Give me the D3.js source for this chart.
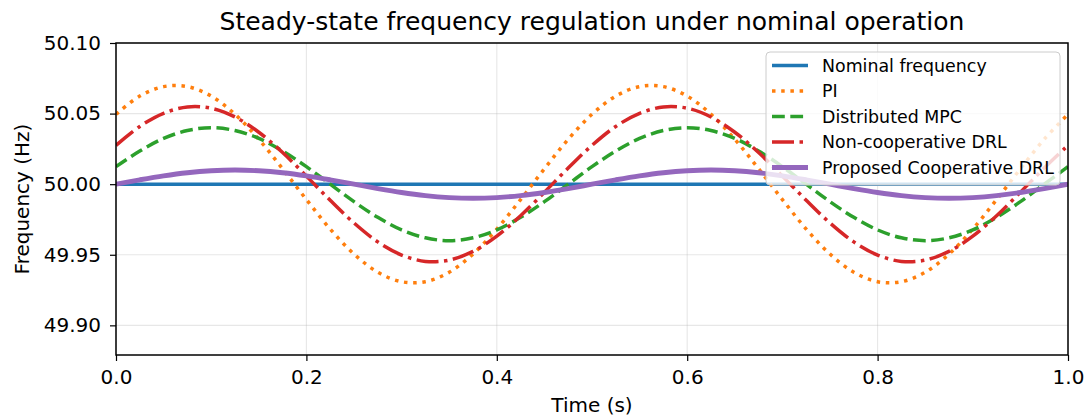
<!DOCTYPE html>
<html>
<head>
<meta charset="utf-8">
<script src="https://cdn.jsdelivr.net/npm/d3@7"></script>
<style>
    body { margin: 0; background: #fff; }
    #chart { width: 1088px; height: 419px; }
    text { font-family: "DejaVu Sans", sans-serif; fill: #000; }
    .axis text { font-size: 20px; }
    .axis path, .axis line { stroke: #000; }
    .grid line { stroke: #b0b0b0; stroke-opacity: 0.3; }
</style>
</head>
<body>
<div id="chart"></div>
<script>

// time samples (s)
const time = [0.000,0.025,0.050,0.075,0.100,0.125,0.150,0.175,0.200,0.225,
              0.250,0.275,0.300,0.325,0.350,0.375,0.400,0.425,0.450,0.475,
              0.500,0.525,0.550,0.575,0.600,0.625,0.650,0.675,0.700,0.725,
              0.750,0.775,0.800,0.825,0.850,0.875,0.900,0.925,0.950,0.975,1.000];

// frequencies (Hz)
const nominal = [50.000,50.000,50.000,50.000,50.000,50.000,50.000,50.000,50.000,50.000,
                 50.000,50.000,50.000,50.000,50.000,50.000,50.000,50.000,50.000,50.000,
                 50.000,50.000,50.000,50.000,50.000,50.000,50.000,50.000,50.000,50.000,
                 50.000,50.000,50.000,50.000,50.000,50.000,50.000,50.000,50.000,50.000,50.000];

const pi = [50.0495,50.0624,50.0691,50.0691,50.0624,50.0495,50.0318,50.0109,49.9891,49.9682,
            49.9505,49.9376,49.9309,49.9309,49.9376,49.9505,49.9682,49.9891,50.0109,50.0318,
            50.0495,50.0624,50.0691,50.0691,50.0624,50.0495,50.0318,50.0109,49.9891,49.9682,
            49.9505,49.9376,49.9309,49.9309,49.9376,49.9505,49.9682,49.9891,50.0109,50.0318,50.0495];

const mpc = [50.0124,50.0235,50.0324,50.0380,50.0400,50.0380,50.0324,50.0235,50.0124,50.0000,
             49.9876,49.9765,49.9676,49.9620,49.9600,49.9620,49.9676,49.9765,49.9876,50.0000,
             50.0124,50.0235,50.0324,50.0380,50.0400,50.0380,50.0324,50.0235,50.0124,50.0000,
             49.9876,49.9765,49.9676,49.9620,49.9600,49.9620,49.9676,49.9765,49.9876,50.0000,50.0124];

const drl = [50.0275,50.0409,50.0502,50.0547,50.0538,50.0476,50.0368,50.0224,50.0057,49.9886,
             49.9725,49.9591,49.9498,49.9453,49.9462,49.9524,49.9632,49.9776,49.9943,50.0114,
             50.0275,50.0409,50.0502,50.0547,50.0538,50.0476,50.0368,50.0224,50.0057,49.9886,
             49.9725,49.9591,49.9498,49.9453,49.9462,49.9524,49.9632,49.9776,49.9943,50.0114,50.0275];

const proposed = [50.0000,50.0031,50.0059,50.0081,50.0095,50.0100,50.0095,50.0081,50.0059,50.0031,
                  50.0000,49.9969,49.9941,49.9919,49.9905,49.9900,49.9905,49.9919,49.9941,49.9969,
                  50.0000,50.0031,50.0059,50.0081,50.0095,50.0100,50.0095,50.0081,50.0059,50.0031,
                  50.0000,49.9969,49.9941,49.9919,49.9905,49.9900,49.9905,49.9919,49.9941,49.9969,50.0000];

const xTicks = [0, 0.2, 0.4, 0.6, 0.8, 1.0];
const yTicks = [49.90, 49.95, 50.00, 50.05, 50.10];

const series = [
    {name: "Nominal frequency", values: nominal, color: "#1f77b4", width: 3.5, dash: null},
    {name: "PI", values: pi, color: "#ff7f0e", width: 3.5, dash: "3.5,5.7"},
    {name: "Distributed MPC", values: mpc, color: "#2ca02c", width: 3.5, dash: "12.8,5.5"},
    {name: "Non-cooperative DRL", values: drl, color: "#d62728", width: 3.5, dash: "22,5.5,3.5,5.5"},
    {name: "Proposed Cooperative DRL", values: proposed, color: "#9467bd", width: 4.9, dash: null}
];

/*
SVG CANVAS
*/
const width = 1088;
const height = 419;
const margin = {top: 43, left: 116, right: 20, bottom: 64};

const svg = d3.select("#chart")
    .append("svg")
    .attr("width", width)
    .attr("height", height);

/*
SCALES
*/
const xScale = d3.scaleLinear()
    .domain([0, 1])
    .range([margin.left, width - margin.right]);

const yScale = d3.scaleLinear()
    .domain([49.879, 50.10])
    .range([height - margin.bottom, margin.top]);

/*
GRID
*/
svg.append("g")
    .attr("class", "grid")
    .selectAll("line.gx")
    .data(xTicks)
    .enter()
    .append("line")
        .attr("x1", d => xScale(d))
        .attr("x2", d => xScale(d))
        .attr("y1", margin.top)
        .attr("y2", height - margin.bottom)
        .attr("stroke-width", 1.1);

svg.append("g")
    .attr("class", "grid")
    .selectAll("line.gy")
    .data(yTicks)
    .enter()
    .append("line")
        .attr("x1", margin.left)
        .attr("x2", width - margin.right)
        .attr("y1", d => yScale(d))
        .attr("y2", d => yScale(d))
        .attr("stroke-width", 1.1);

/*
LINES
*/
svg.append("clipPath")
    .attr("id", "plotclip")
    .append("rect")
        .attr("x", margin.left)
        .attr("y", margin.top)
        .attr("width", width - margin.left - margin.right)
        .attr("height", height - margin.top - margin.bottom);

const line = d3.line()
    .x((d, i) => xScale(time[i]))
    .y(d => yScale(d))
    .curve(d3.curveCatmullRom.alpha(0.5));

svg.append("g")
    .attr("clip-path", "url(#plotclip)")
    .selectAll("path")
    .data(series)
    .enter()
    .append("path")
        .attr("d", d => line(d.values))
        .attr("fill", "none")
        .attr("stroke", d => d.color)
        .attr("stroke-width", d => d.width)
        .attr("stroke-dasharray", d => d.dash);

/*
AXES
*/
const xAxis = svg.append("g")
    .attr("class", "axis")
    .attr("transform", `translate(0,${height - margin.bottom})`)
    .call(d3.axisBottom(xScale).tickValues(xTicks).tickFormat(d3.format(".1f")).tickSize(6).tickPadding(9));

const yAxis = svg.append("g")
    .attr("class", "axis")
    .attr("transform", `translate(${margin.left},0)`)
    .call(d3.axisLeft(yScale).tickValues(yTicks).tickFormat(d3.format(".2f")).tickSize(6).tickPadding(9));

svg.selectAll(".axis .domain").remove();
svg.selectAll(".axis line").attr("stroke-width", 1.2);

// frame
svg.append("rect")
    .attr("x", margin.left)
    .attr("y", margin.top)
    .attr("width", width - margin.left - margin.right)
    .attr("height", height - margin.top - margin.bottom)
    .attr("fill", "none")
    .attr("stroke", "#000")
    .attr("stroke-width", 1.5);

/*
LABELS
*/
svg.append("text")
    .attr("x", (margin.left + width - margin.right) / 2)
    .attr("y", 30)
    .attr("text-anchor", "middle")
    .style("font-size", "25px")
    .text("Steady-state frequency regulation under nominal operation");

svg.append("text")
    .attr("x", (margin.left + width - margin.right) / 2)
    .attr("y", 412)
    .attr("text-anchor", "middle")
    .style("font-size", "20px")
    .text("Time (s)");

svg.append("text")
    .attr("transform", "rotate(-90)")
    .attr("x", -(margin.top + height - margin.bottom) / 2)
    .attr("y", 29)
    .attr("text-anchor", "middle")
    .style("font-size", "20px")
    .text("Frequency (Hz)");

/*
LEGEND
*/
const legend = svg.append("g")
    .attr("transform", "translate(766,52)");

legend.append("rect")
    .attr("width", 294)
    .attr("height", 133)
    .attr("rx", 4)
    .attr("fill", "#fff")
    .attr("fill-opacity", 0.8)
    .attr("stroke", "#cccccc")
    .attr("stroke-width", 1);

series.forEach(function(s, i) {
    const y = 13.5 + i * 25.5;
    legend.append("line")
        .attr("x1", 6)
        .attr("x2", 42)
        .attr("y1", y)
        .attr("y2", y)
        .attr("stroke", s.color)
        .attr("stroke-width", s.width)
        .attr("stroke-dasharray", s.dash);

    legend.append("text")
        .attr("x", 56)
        .attr("y", y + 6)
        .style("font-size", "17.4px")
        .text(s.name);
});

</script>
</body>
</html>
